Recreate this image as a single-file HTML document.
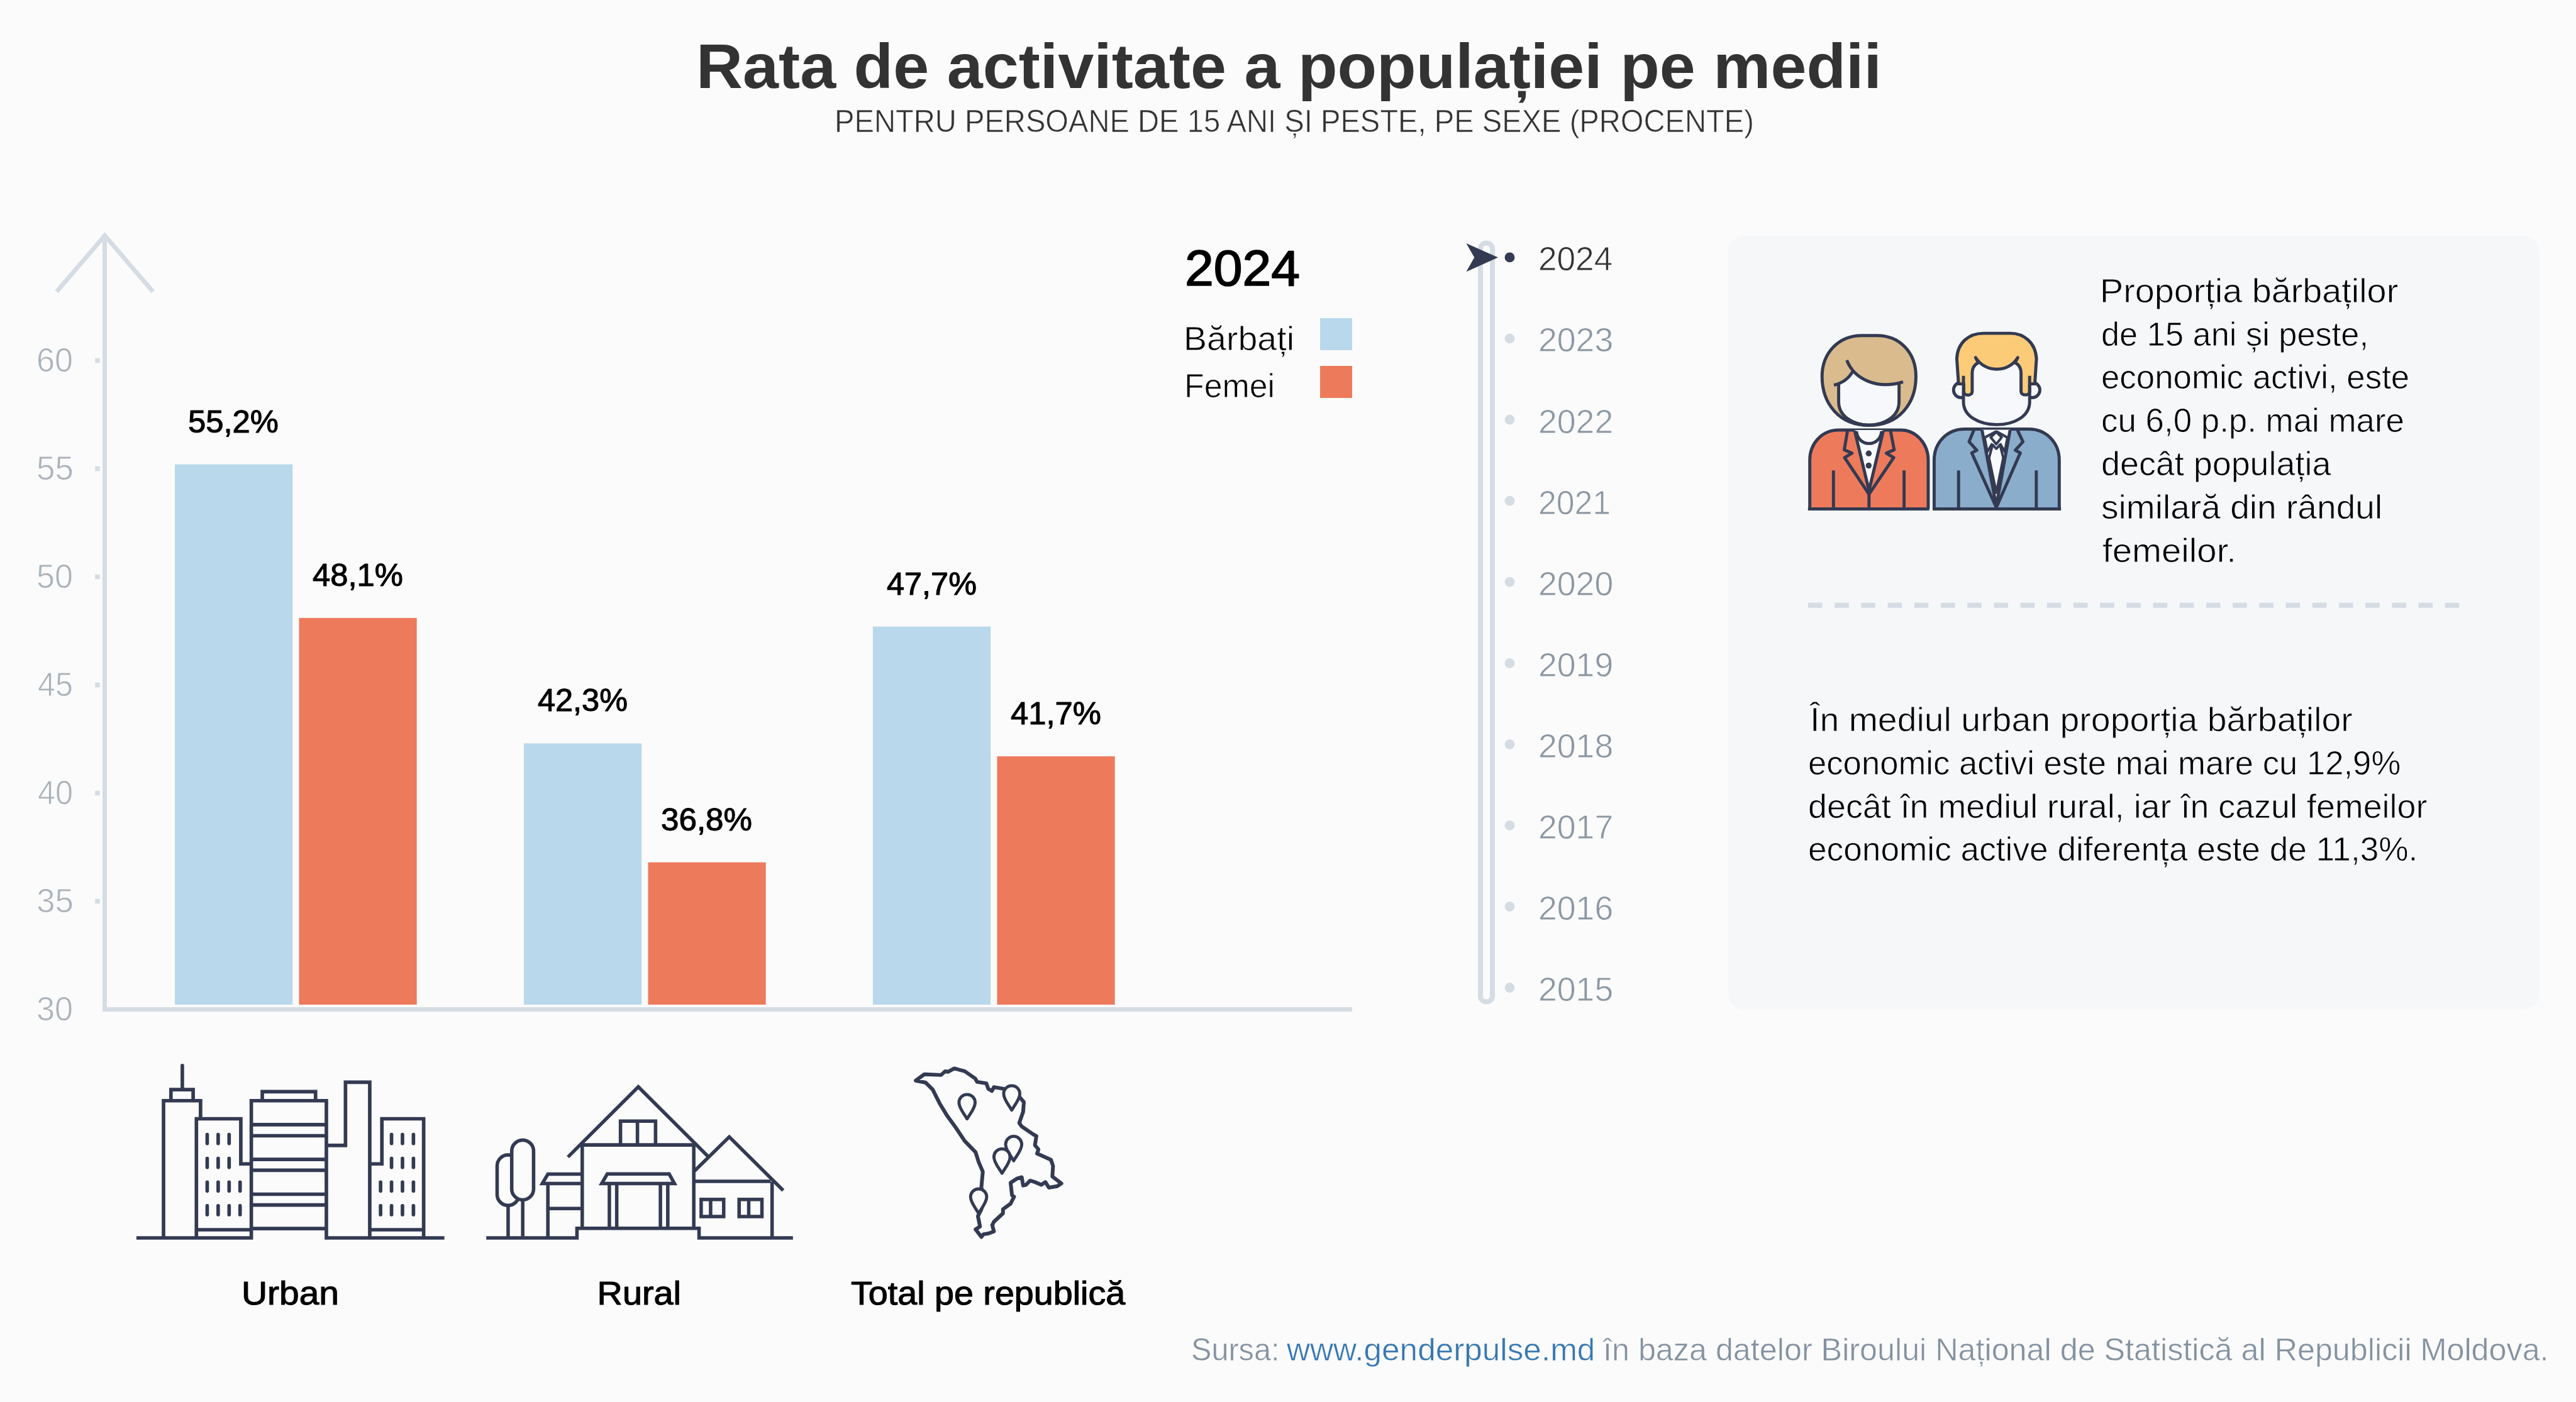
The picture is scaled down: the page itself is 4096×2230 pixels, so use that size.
<!DOCTYPE html>
<html lang="ro"><head><meta charset="utf-8"><title>Rata de activitate a populației pe medii</title>
<style>html,body{margin:0;padding:0;background:#fbfbfb}svg{display:block;width:100%;height:auto}text{font-family:"Liberation Sans",sans-serif}</style></head><body>
<svg width="4096" height="2230" viewBox="0 0 4096 2230">
<rect width="4096" height="2230" fill="#fbfbfb"/>
<rect x="2748" y="375" width="1290" height="1230.5" rx="26" fill="#f5f7f9"/>
<path d="M166.5 374.5 V1605.5 H2150" fill="none" stroke="#d5dce3" stroke-width="7"/>
<path d="M90 464 L166.6 374.6 L243.3 464" fill="none" stroke="#d5dce3" stroke-width="7"/>
<rect x="151.2" y="569.7" width="7.6" height="7.6" fill="#d5dce3"/>
<rect x="151.2" y="741.7" width="7.6" height="7.6" fill="#d5dce3"/>
<rect x="151.2" y="913.7" width="7.6" height="7.6" fill="#d5dce3"/>
<rect x="151.2" y="1085.7" width="7.6" height="7.6" fill="#d5dce3"/>
<rect x="151.2" y="1257.7" width="7.6" height="7.6" fill="#d5dce3"/>
<rect x="151.2" y="1429.7" width="7.6" height="7.6" fill="#d5dce3"/>
<rect x="278.0" y="738.6" width="187.2" height="859.4" fill="#b9d8ec"/>
<rect x="475.5" y="982.9" width="187.2" height="615.1" fill="#ee7a5c"/>
<rect x="833.0" y="1182.4" width="187.2" height="415.6" fill="#b9d8ec"/>
<rect x="1030.5" y="1371.6" width="187.2" height="226.4" fill="#ee7a5c"/>
<rect x="1388.0" y="996.6" width="187.2" height="601.4" fill="#b9d8ec"/>
<rect x="1585.5" y="1203.0" width="187.2" height="395.0" fill="#ee7a5c"/>
<rect x="2099" y="506" width="51" height="51" fill="#b9d8ec"/><rect x="2099" y="582" width="51" height="51" fill="#ee7a5c"/>
<rect x="2354" y="386.8" width="19" height="1206.4" rx="8.5" fill="none" stroke="#d5dce4" stroke-width="8"/>
<path d="M2331.4 387 L2382 409.4 L2331.4 432.2 L2344.3 409.4 Z" fill="#333a52"/>
<circle cx="2400.5" cy="409.4" r="7.9" fill="#333a52"/>
<circle cx="2400.5" cy="538.5" r="7.9" fill="#d5dce4"/>
<circle cx="2400.5" cy="667.5" r="7.9" fill="#d5dce4"/>
<circle cx="2400.5" cy="796.6" r="7.9" fill="#d5dce4"/>
<circle cx="2400.5" cy="925.7" r="7.9" fill="#d5dce4"/>
<circle cx="2400.5" cy="1054.8" r="7.9" fill="#d5dce4"/>
<circle cx="2400.5" cy="1183.8" r="7.9" fill="#d5dce4"/>
<circle cx="2400.5" cy="1312.9" r="7.9" fill="#d5dce4"/>
<circle cx="2400.5" cy="1442.0" r="7.9" fill="#d5dce4"/>
<circle cx="2400.5" cy="1571.0" r="7.9" fill="#d5dce4"/>
<path d="M2875 962.7 H3911" stroke="#d5dce4" stroke-width="8" stroke-dasharray="22.5 19.7" fill="none"/>
<g transform="translate(200 1670) scale(0.2354)" fill="none" stroke="#333a52" stroke-width="24">
<path d="M72 1270 H848 V343 H1355 V1270 H2152"/>
<path d="M848 1207 H1355 M848 505 H1355 M848 580 H1355 M848 740 H1355 M848 813 H1355 M848 975 H1355 M848 1048 H1355"/>
<path d="M922 343 V282 H1282 V343"/>
<path d="M255 1270 V343 H505 V465"/>
<path d="M305 343 V268 H455 V343"/>
<path d="M382 268 V105" stroke-linecap="round"/>
<path d="M477 1270 V465 H777 V770 H848 M477 1215 H848"/>
<path d="M1355 645 H1484 V218 H1648 V1270"/>
<path d="M1648 770 H1730 V465 H2012 V1270 M1648 1215 H2012"/>
<path d="M550 572 V632 M550 733 V793 M624 572 V632 M624 733 V793 M698 572 V632 M698 733 V793 M550 893 V953 M550 1053 V1113 M624 893 V953 M624 1053 V1113 M698 893 V953 M698 1053 V1113 M772 893 V953 M772 1053 V1113 M1795 572 V632 M1795 733 V793 M1869 572 V632 M1869 733 V793 M1943 572 V632 M1943 733 V793 M1721 893 V953 M1721 1053 V1113 M1795 893 V953 M1795 1053 V1113 M1869 893 V953 M1869 1053 V1113 M1943 893 V953 M1943 1053 V1113" stroke-linecap="round"/>
</g>
<g transform="translate(750 1690) scale(0.22114)" fill="none" stroke="#333a52" stroke-width="25">
<path d="M105 1262 H757 V1193 H1635 V1262 H2310"/>
<path d="M262 1262 V1028 M367 1262 V988"/>
<rect x="183" y="665" width="157" height="363" rx="78.5"/>
<rect x="288" y="558" width="157" height="430" rx="78.5" fill="#fbfbfb"/>
<path d="M790 803 H548 L508 870 H790 M548 870 V1262 M548 1050 H790"/>
<path d="M795 593 V1193 M1597 593 V1193 M795 593 H1597"/>
<path d="M692 680 L1198 175 L1700 676"/>
<path d="M1070 593 V422 H1322 V593 M1192 422 V593"/>
<path d="M975 802 H1420 L1458 870 H935 Z"/>
<path d="M990 870 V1193 M1043 870 V1193 M1357 870 V1193 M1410 870 V1193"/>
<path d="M1600 782 L1852 535 L2240 920"/>
<path d="M1597 855 H2150 M2160 858 V1262"/>
<rect x="1650" y="985" width="162" height="123"/><path d="M1718 985 V1108"/>
<rect x="1923" y="985" width="164" height="123"/><path d="M1992 985 V1108"/>
</g>
<g transform="translate(1430 1680) scale(0.22119)" fill="none" stroke="#333a52" stroke-linejoin="round"><path d="M118 175 L180 130 L300 135 L330 108 L350 112 L395 88 L470 108 L545 160 L560 185 L625 195 L640 235 L665 250 L680 222 L770 238 L870 300 L895 330 L890 400 L862 480 L880 505 L960 560 L985 575 L975 640 L1000 670 L990 700 L1090 745 L1105 790 L1100 865 L1165 915 L1135 935 L1075 945 L1050 905 L1020 925 L975 905 L940 895 L910 925 L890 930 L880 870 L845 880 L800 910 L810 1000 L825 1010 L800 1060 L745 1100 L745 1130 L680 1190 L668 1215 L680 1260 L640 1275 L605 1280 L590 1300 L548 1245 L580 1225 L565 1150 L590 1100 L600 1010 L590 940 L600 830 L570 760 L548 690 L470 610 L400 505 L345 430 L290 340 L240 240 L190 190 Z" stroke-width="27"/>
<path d="M487 451 C467 416 429 373 429 333 C429 301 455 275 487 275 C519 275 545 301 545 333 C545 373 507 416 487 451 Z" stroke-width="22" fill="#fbfbfb"/>
<path d="M808 388 C788 353 750 310 750 270 C750 238 776 212 808 212 C840 212 866 238 866 270 C866 310 828 353 808 388 Z" stroke-width="22" fill="#fbfbfb"/>
<path d="M822 752 C802 717 764 674 764 634 C764 602 790 576 822 576 C854 576 880 602 880 634 C880 674 842 717 822 752 Z" stroke-width="22" fill="#fbfbfb"/>
<path d="M738 842 C718 807 680 764 680 724 C680 692 706 666 738 666 C770 666 796 692 796 724 C796 764 758 807 738 842 Z" stroke-width="22" fill="#fbfbfb"/>
<path d="M570 1130 C550 1095 512 1052 512 1012 C512 980 538 954 570 954 C602 954 628 980 628 1012 C628 1052 590 1095 570 1130 Z" stroke-width="22" fill="#fbfbfb"/>
</g>
<g transform="translate(2820 500) scale(0.2354)" fill="none" stroke="#333a52" stroke-width="21" stroke-linejoin="round">
<path d="M595 143 H700 C850 143 962 255 962 420 C962 600 850 750 645 750 C440 750 328 600 328 420 C328 255 445 143 595 143 Z" fill="#d9bb8e"/>
<path d="M440 590 L442.8 467.6 L446.4 466.1 L450.1 464.6 L453.6 463.0 L457.2 461.3 L460.7 459.5 L464.1 457.7 L467.5 455.8 L470.9 453.8 L474.2 451.7 L477.5 449.6 L480.8 447.4 L484.0 445.1 L487.1 442.7 L490.2 440.2 L493.3 437.6 L496.4 434.9 L499.4 432.2 L502.3 429.3 L505.2 426.4 L508.1 423.3 L510.9 420.2 L513.7 417.0 L516.5 413.6 L519.2 410.2 L521.9 406.6 L524.5 403.0 L527.1 399.2 L529.6 395.3 L532.1 391.3 L534.6 387.2 L537.0 383.0 L536.9 380.3 L540.3 384.1 L543.7 387.9 L547.3 391.6 L550.9 395.2 L554.5 398.8 L558.3 402.3 L562.1 405.7 L566.1 409.1 L570.0 412.3 L574.1 415.5 L578.2 418.7 L582.4 421.7 L586.7 424.7 L591.1 427.6 L595.5 430.4 L600.0 433.1 L604.5 435.8 L609.1 438.3 L613.8 440.8 L618.5 443.2 L623.3 445.5 L628.2 447.8 L633.1 449.9 L638.1 452.0 L643.2 454.0 L648.3 455.9 L653.4 457.7 L658.6 459.4 L663.9 461.0 L669.2 462.6 L674.6 464.0 L680.0 465.4 L685.5 466.6 L691.0 467.8 L696.6 468.9 L702.2 469.9 L707.9 470.8 L713.6 471.6 L719.4 472.2 L725.2 472.8 L731.0 473.3 L736.9 473.7 L742.9 474.0 L748.8 474.2 L754.8 474.3 L760.9 474.3 L767.0 474.2 L773.1 474.0 L779.2 473.7 L785.4 473.3 L791.6 472.8 L797.9 472.1 L804.2 471.4 L810.5 470.6 L816.8 469.6 L823.2 468.5 L829.6 467.4 L836.0 466.1 L842.4 464.7 L848 590 C848 690 750 748 645 748 C540 748 440 690 440 590 Z" fill="#f6f8fb" stroke="none"/>
<path d="M440 476 V590 C440 690 540 748 645 748 C750 748 848 690 848 590 V466"/>
<path d="M495 310 C545 440 700 510 875 456 M537 383 C505 440 462 466 408 478" stroke-linejoin="miter"/>
<path d="M245 1315 V985 C245 870 330 782 440 782 H860 C960 782 1045 870 1045 985 V1315" fill="#ee7a5c"/>
<path d="M548 782 L645 1190 L742 782 Z" fill="#f8f9fb" stroke="none"/>
<path d="M560 790 C570 900 720 900 730 790" />
<path d="M548 786 L645 1190 L742 786"/>
<path d="M500 786 L478 915 L530 938 L480 968 L645 1215 L812 968 L762 938 L815 915 L790 786"/>
<path d="M645 1215 V1315 M405 1055 V1315 M882 1055 V1315"/>
<circle cx="643" cy="940" r="20" fill="#333a52" stroke="none"/><circle cx="643" cy="1022" r="20" fill="#333a52" stroke="none"/>
<path d="M233 1315 H1052"/>
<circle cx="1268" cy="511" r="52" fill="#f6f8fb"/><circle cx="1747" cy="511" r="52" fill="#f6f8fb"/>
<path d="M1283 330 V590 C1283 690 1390 745 1507 745 C1625 745 1730 690 1730 590 V330 Z" fill="#f6f8fb" stroke="none"/>
<path d="M1285 470 L1285 520 C1285 554 1342 554 1342 520 L1342 395 C1342 362 1358 340 1383 326 L1365 292 C1430 397 1588 397 1650 292 L1632 326 C1657 340 1672 362 1672 395 L1672 520 C1672 552 1730 552 1730 520 L1730 470 L1765 470 L1776 300 C1770 190 1690 128 1600 128 L1420 128 C1320 128 1243 190 1238 300 L1250 470 Z" fill="#fbcb78"/>
<path d="M1283 415 V590 C1283 690 1390 745 1507 745 C1625 745 1730 690 1730 590 V415" stroke-linejoin="miter"/>
<path d="M1085 1315 V985 C1085 870 1170 775 1290 775 H1725 C1845 775 1930 870 1930 985 V1315" fill="#8aadcb"/>
<path d="M1408 779 L1505 1295 L1598 779 Z" fill="#f8f9fb" stroke="none"/>
<path d="M1408 782 L1505 1295 L1598 782" />
<path d="M1353 782 L1321 861 L1373 918 L1339 936 L1505 1305 L1667 936 L1633 918 L1685 861 L1648 782"/>
<path d="M1505 790 L1426 833 L1444 929 L1478 872 M1505 790 L1580 833 L1562 929 L1530 872" stroke-width="17"/>
<path d="M1505 795 L1467 831 L1505 877 L1541 831 Z M1478 879 L1505 908 L1532 879 M1480 880 L1456 970 L1505 1205 L1552 970 L1530 880" stroke-width="17"/>
<path d="M1250 1055 V1315 M1775 1055 V1315"/>
<path d="M1075 1315 H1942"/>
</g>
<text x="1107.00" y="140.20" font-size="100.5" font-weight="700" fill="#333" textLength="1885.00" lengthAdjust="spacingAndGlyphs">Rata de activitate a populației pe medii</text>
<text x="1327.00" y="210.00" font-size="49.8" font-weight="400" fill="#333" stroke="#fbfbfb" stroke-width="0.70" textLength="1462.00" lengthAdjust="spacingAndGlyphs">PENTRU PERSOANE DE 15 ANI ȘI PESTE, PE SEXE (PROCENTE)</text>
<text x="58.00" y="591.10" font-size="52.9" font-weight="400" fill="#abb2b9" stroke="#fbfbfb" stroke-width="0.90" textLength="58.00" lengthAdjust="spacingAndGlyphs">60</text>
<text x="58.00" y="763.10" font-size="52.9" font-weight="400" fill="#abb2b9" stroke="#fbfbfb" stroke-width="0.90" textLength="59.00" lengthAdjust="spacingAndGlyphs">55</text>
<text x="58.00" y="935.10" font-size="52.9" font-weight="400" fill="#abb2b9" stroke="#fbfbfb" stroke-width="0.90" textLength="58.00" lengthAdjust="spacingAndGlyphs">50</text>
<text x="60.00" y="1107.10" font-size="52.9" font-weight="400" fill="#abb2b9" stroke="#fbfbfb" stroke-width="0.90" textLength="56.00" lengthAdjust="spacingAndGlyphs">45</text>
<text x="60.00" y="1279.10" font-size="52.9" font-weight="400" fill="#abb2b9" stroke="#fbfbfb" stroke-width="0.90" textLength="56.00" lengthAdjust="spacingAndGlyphs">40</text>
<text x="58.00" y="1451.10" font-size="52.9" font-weight="400" fill="#abb2b9" stroke="#fbfbfb" stroke-width="0.90" textLength="59.00" lengthAdjust="spacingAndGlyphs">35</text>
<text x="58.00" y="1623.10" font-size="52.9" font-weight="400" fill="#abb2b9" stroke="#fbfbfb" stroke-width="0.90" textLength="58.00" lengthAdjust="spacingAndGlyphs">30</text>
<text x="299.00" y="687.72" font-size="50.4" font-weight="400" fill="#000" stroke="#000" stroke-width="1.11" stroke-linejoin="round" textLength="144.00" lengthAdjust="spacingAndGlyphs">55,2%</text>
<text x="497.00" y="931.96" font-size="50.4" font-weight="400" fill="#000" stroke="#000" stroke-width="1.11" stroke-linejoin="round" textLength="144.00" lengthAdjust="spacingAndGlyphs">48,1%</text>
<text x="855.00" y="1131.48" font-size="50.4" font-weight="400" fill="#000" stroke="#000" stroke-width="1.11" stroke-linejoin="round" textLength="143.00" lengthAdjust="spacingAndGlyphs">42,3%</text>
<text x="1051.00" y="1320.68" font-size="50.4" font-weight="400" fill="#000" stroke="#000" stroke-width="1.11" stroke-linejoin="round" textLength="145.00" lengthAdjust="spacingAndGlyphs">36,8%</text>
<text x="1410.00" y="945.72" font-size="50.4" font-weight="400" fill="#000" stroke="#000" stroke-width="1.11" stroke-linejoin="round" textLength="143.00" lengthAdjust="spacingAndGlyphs">47,7%</text>
<text x="1607.00" y="1152.12" font-size="50.4" font-weight="400" fill="#000" stroke="#000" stroke-width="1.11" stroke-linejoin="round" textLength="144.00" lengthAdjust="spacingAndGlyphs">41,7%</text>
<text x="1884.00" y="454.00" font-size="79.0" font-weight="400" fill="#000" stroke="#000" stroke-width="1.74" stroke-linejoin="round" textLength="183.00" lengthAdjust="spacingAndGlyphs">2024</text>
<text x="1882.00" y="556.50" font-size="53.2" font-weight="400" fill="#000" stroke="#fbfbfb" stroke-width="0.80" textLength="176.00" lengthAdjust="spacingAndGlyphs">Bărbați</text>
<text x="1883.00" y="632.00" font-size="53.2" font-weight="400" fill="#000" stroke="#fbfbfb" stroke-width="0.80" textLength="144.00" lengthAdjust="spacingAndGlyphs">Femei</text>
<text x="2446.00" y="430.40" font-size="53.0" font-weight="400" fill="#333" stroke="#fbfbfb" stroke-width="0.80" textLength="118.20" lengthAdjust="spacingAndGlyphs">2024</text>
<text x="2446.00" y="559.47" font-size="53.0" font-weight="400" fill="#8c97a2" stroke="#fbfbfb" stroke-width="0.80" textLength="119.20" lengthAdjust="spacingAndGlyphs">2023</text>
<text x="2446.00" y="688.54" font-size="53.0" font-weight="400" fill="#8c97a2" stroke="#fbfbfb" stroke-width="0.80" textLength="119.20" lengthAdjust="spacingAndGlyphs">2022</text>
<text x="2446.00" y="817.61" font-size="53.0" font-weight="400" fill="#8c97a2" stroke="#fbfbfb" stroke-width="0.80" textLength="115.00" lengthAdjust="spacingAndGlyphs">2021</text>
<text x="2446.00" y="946.68" font-size="53.0" font-weight="400" fill="#8c97a2" stroke="#fbfbfb" stroke-width="0.80" textLength="119.20" lengthAdjust="spacingAndGlyphs">2020</text>
<text x="2446.00" y="1075.75" font-size="53.0" font-weight="400" fill="#8c97a2" stroke="#fbfbfb" stroke-width="0.80" textLength="119.20" lengthAdjust="spacingAndGlyphs">2019</text>
<text x="2446.00" y="1204.82" font-size="53.0" font-weight="400" fill="#8c97a2" stroke="#fbfbfb" stroke-width="0.80" textLength="119.20" lengthAdjust="spacingAndGlyphs">2018</text>
<text x="2446.00" y="1333.89" font-size="53.0" font-weight="400" fill="#8c97a2" stroke="#fbfbfb" stroke-width="0.80" textLength="119.20" lengthAdjust="spacingAndGlyphs">2017</text>
<text x="2446.00" y="1462.96" font-size="53.0" font-weight="400" fill="#8c97a2" stroke="#fbfbfb" stroke-width="0.80" textLength="119.20" lengthAdjust="spacingAndGlyphs">2016</text>
<text x="2446.00" y="1592.03" font-size="53.0" font-weight="400" fill="#8c97a2" stroke="#fbfbfb" stroke-width="0.80" textLength="119.20" lengthAdjust="spacingAndGlyphs">2015</text>
<text x="3339.00" y="480.70" font-size="53.2" font-weight="400" fill="#000" stroke="#f5f7f9" stroke-width="0.80" textLength="474.20" lengthAdjust="spacingAndGlyphs">Proporția bărbaților</text>
<text x="3341.00" y="549.50" font-size="53.2" font-weight="400" fill="#000" stroke="#f5f7f9" stroke-width="0.80" textLength="425.00" lengthAdjust="spacingAndGlyphs">de 15 ani și peste,</text>
<text x="3341.00" y="618.30" font-size="53.2" font-weight="400" fill="#000" stroke="#f5f7f9" stroke-width="0.80" textLength="490.20" lengthAdjust="spacingAndGlyphs">economic activi, este</text>
<text x="3341.00" y="687.10" font-size="53.2" font-weight="400" fill="#000" stroke="#f5f7f9" stroke-width="0.80" textLength="482.00" lengthAdjust="spacingAndGlyphs">cu 6,0 p.p. mai mare</text>
<text x="3341.00" y="755.90" font-size="53.2" font-weight="400" fill="#000" stroke="#f5f7f9" stroke-width="0.80" textLength="365.40" lengthAdjust="spacingAndGlyphs">decât populația</text>
<text x="3341.00" y="824.70" font-size="53.2" font-weight="400" fill="#000" stroke="#f5f7f9" stroke-width="0.80" textLength="447.20" lengthAdjust="spacingAndGlyphs">similară din rândul</text>
<text x="3343.00" y="893.50" font-size="53.2" font-weight="400" fill="#000" stroke="#f5f7f9" stroke-width="0.80" textLength="213.00" lengthAdjust="spacingAndGlyphs">femeilor.</text>
<text x="2878.00" y="1163.00" font-size="53.2" font-weight="400" fill="#000" stroke="#f5f7f9" stroke-width="0.80" textLength="862.80" lengthAdjust="spacingAndGlyphs">În mediul urban proporția bărbaților</text>
<text x="2875.00" y="1231.80" font-size="53.2" font-weight="400" fill="#000" stroke="#f5f7f9" stroke-width="0.80" textLength="942.20" lengthAdjust="spacingAndGlyphs">economic activi este mai mare cu 12,9%</text>
<text x="2875.00" y="1300.60" font-size="53.2" font-weight="400" fill="#000" stroke="#f5f7f9" stroke-width="0.80" textLength="984.40" lengthAdjust="spacingAndGlyphs">decât în mediul rural, iar în cazul femeilor</text>
<text x="2875.00" y="1369.40" font-size="53.2" font-weight="400" fill="#000" stroke="#f5f7f9" stroke-width="0.80" textLength="969.40" lengthAdjust="spacingAndGlyphs">economic active diferența este de 11,3%.</text>
<text x="1894.00" y="2164.00" font-size="50.3" font-weight="400" fill="#8491a0" stroke="#fbfbfb" stroke-width="0.60" textLength="140.40" lengthAdjust="spacingAndGlyphs">Sursa:</text>
<text x="2046.00" y="2164.00" font-size="50.3" font-weight="400" fill="#3777b3" stroke="#fbfbfb" stroke-width="0.60" textLength="490.40" lengthAdjust="spacingAndGlyphs">www.genderpulse.md</text>
<text x="2549.00" y="2164.00" font-size="50.3" font-weight="400" fill="#8491a0" stroke="#fbfbfb" stroke-width="0.60" textLength="1503.60" lengthAdjust="spacingAndGlyphs">în baza datelor Biroului Național de Statistică al Republicii Moldova.</text>
<text x="384.00" y="2074.70" font-size="52.2" font-weight="400" fill="#000" stroke="#000" stroke-width="1.15" stroke-linejoin="round" textLength="155.00" lengthAdjust="spacingAndGlyphs">Urban</text>
<text x="949.60" y="2074.70" font-size="52.2" font-weight="400" fill="#000" stroke="#000" stroke-width="1.15" stroke-linejoin="round" textLength="133.40" lengthAdjust="spacingAndGlyphs">Rural</text>
<text x="1353.00" y="2074.70" font-size="52.2" font-weight="400" fill="#000" stroke="#000" stroke-width="1.15" stroke-linejoin="round" textLength="436.20" lengthAdjust="spacingAndGlyphs">Total pe republică</text>
</svg></body></html>
